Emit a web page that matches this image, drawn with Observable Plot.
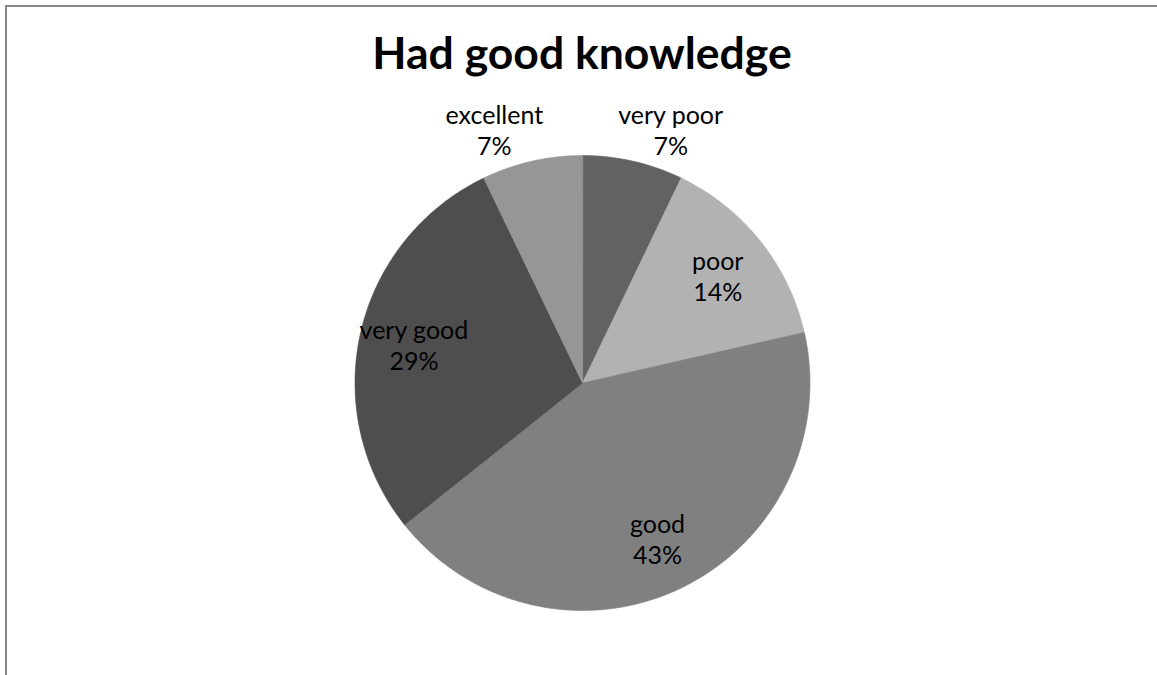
<!DOCTYPE html>
<html>
<head>
<meta charset="utf-8">
<script src="https://cdn.jsdelivr.net/npm/d3@7"></script>
<script src="https://cdn.jsdelivr.net/npm/@observablehq/plot@0.6"></script>
<style>
  html, body { margin: 0; padding: 0; background: #fff; }
  #page { position: relative; width: 1157px; height: 675px; overflow: hidden; }
  #frame { position: absolute; left: 5px; top: 5px; width: 1300px; height: 800px;
           border-left: 2px solid #878787; border-top: 2px solid #878787; }
  #title { position: absolute; left: 0; top: 30px; width: 1164px; text-align: center;
           font-family: Lato, "Open Sans", sans-serif; font-weight: 700; font-size: 44.5px;
           line-height: 44.5px; color: #000; }
  #chart { position: absolute; left: 0; top: 90px; }
</style>
</head>
<body>
<div id="page">
  <div id="frame"></div>
  <div id="title">Had good knowledge</div>
  <div id="chart"></div>
</div>
<script>
const categories = ["very poor", "poor", "good", "very good", "excellent"];
const counts = [1, 2, 6, 4, 1];
const palette = ["#626262", "#b2b2b2", "#808080", "#4e4e4e", "#969696"];

const total = d3.sum(counts);
// clockwise from 12 o'clock
const angles = [];
let acc = 0;
counts.forEach((c, i) => {
  const a0 = acc / total * 2 * Math.PI;
  acc += c;
  const a1 = acc / total * 2 * Math.PI;
  angles.push({cat: categories[i], a0, a1, share: c / total});
});

// slice outlines
const slicePts = [];
for (const s of angles) {
  slicePts.push({cat: s.cat, x: 0, y: 0});
  const n = Math.max(2, Math.ceil((s.a1 - s.a0) / (Math.PI / 360)));
  for (let k = 0; k <= n; k++) {
    const a = s.a0 + (s.a1 - s.a0) * k / n;
    slicePts.push({cat: s.cat, x: Math.sin(a), y: Math.cos(a)});
  }
}

// label placement: small slices outside, others inside
const labels = angles.map(s => {
  const mid = (s.a0 + s.a1) / 2;
  const pct = Math.round(s.share * 100) + "%";
  if (s.share < 0.1) {
    const sgn = Math.sign(Math.sin(mid));
    return {x: Math.sin(mid) + sgn * 0.165, y: Math.cos(mid) + 0.14, text: s.cat + "\n" + pct};
  }
  const r = 0.76;
  return {x: r * Math.sin(mid), y: r * Math.cos(mid), text: s.cat + "\n" + pct};
});

const cx = 582, cy = 292.5, R = 227.5;
const chart = Plot.plot({
  width: 1157,
  height: 585,
  margin: 0,
  x: {domain: [-1, 1], range: [cx - R, cx + R], axis: null},
  y: {domain: [-1, 1], range: [cy + R, cy - R], axis: null},
  color: {domain: categories, range: palette},
  style: {background: "transparent", overflow: "visible"},
  marks: [
    Plot.line(slicePts, {x: "x", y: "y", z: "cat", fill: "cat", stroke: "cat", strokeWidth: 0.6, curve: "linear-closed"}),
    Plot.text(labels, {x: "x", y: "y", text: "text", fontSize: 25, lineHeight: 1.25,
      fontFamily: "Lato, 'Open Sans', sans-serif", fill: "#000"})
  ]
});
document.getElementById("chart").appendChild(chart);
</script>
</body>
</html>
